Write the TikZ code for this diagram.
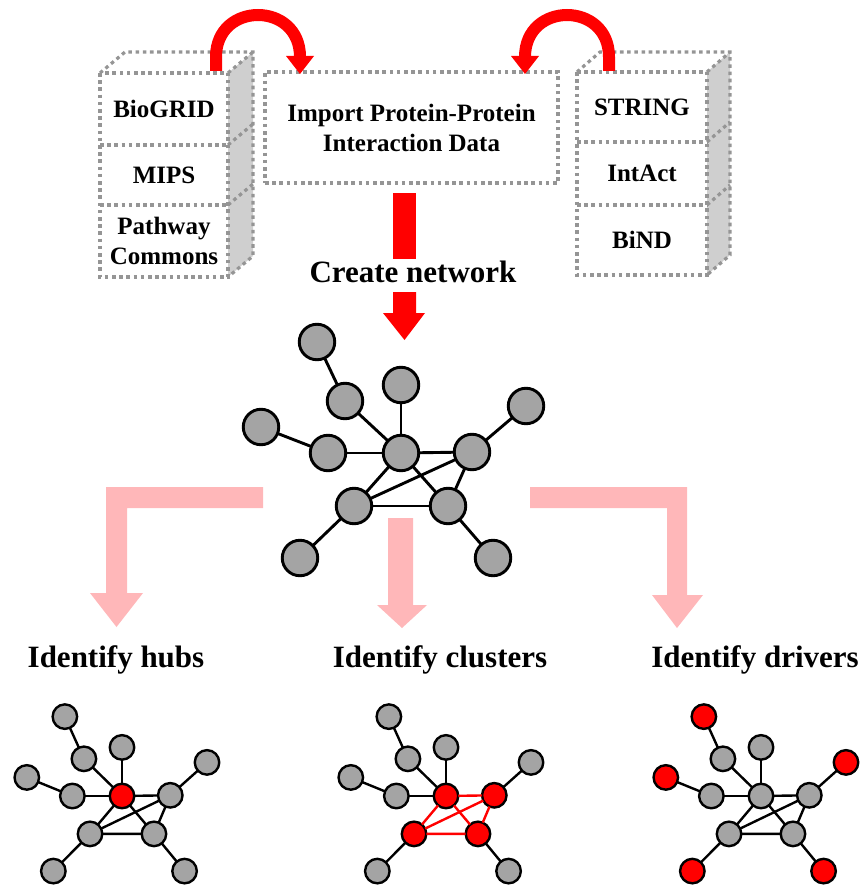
\documentclass[tikz,border=0pt]{standalone}
\usepackage{fontspec}
\setmainfont{Liberation Serif}
\definecolor{nodegray}{HTML}{A4A4A4}
\definecolor{hired}{HTML}{FF0000}
\definecolor{pinkarrow}{HTML}{FFB7B9}
\definecolor{dotgray}{HTML}{959595}
\definecolor{sidegray}{HTML}{CFCFCF}

% one protein node and one interaction edge of a network with prefix #1
\newcommand\pnd[4]{\node[pnode, #1#2/.try] (#1#2) at (#3,#4) {};}
\newcommand\ped[3]{\draw[netedge, #1#2#3/.try] (#1#2) -- (#1#3);}

% the whole network: #1 prefix, #2 centre, #3 x scale, #4 y scale,
% #5 node diameter, #6 line width
\newcommand\protnet[6]{%
  \begin{scope}[shift={#2}, xscale=#3, yscale=#4,
      pnode/.style={circle, draw=black, fill=nodegray, inner sep=0pt,
        outer sep=0pt, minimum size=#5, line width=#6},
      netedge/.style={draw=black, line width=#6}]
    \pnd{#1}{A}{-84}{-111}
    \pnd{#1}{B}{-56}{-52}
    \pnd{#1}{C}{0}{-68}
    \pnd{#1}{D}{125}{-47}
    \pnd{#1}{E}{-140}{-26}
    \pnd{#1}{F}{-73}{0}
    \pnd{#1}{G}{0}{0}
    \pnd{#1}{H}{71}{-1}
    \pnd{#1}{I}{-47}{53}
    \pnd{#1}{J}{47}{53}
    \pnd{#1}{K}{-101}{105}
    \pnd{#1}{L}{92}{105}
    \ped{#1}{A}{B}
    \ped{#1}{B}{G}
    \ped{#1}{C}{G}
    \ped{#1}{D}{H}
    \ped{#1}{E}{F}
    \ped{#1}{F}{G}
    \ped{#1}{G}{H}
    \ped{#1}{G}{I}
    \ped{#1}{G}{J}
    \ped{#1}{H}{I}
    \ped{#1}{H}{J}
    \ped{#1}{I}{J}
    \ped{#1}{I}{K}
    \ped{#1}{J}{L}
  \end{scope}}

\tikzset{
  dotline/.style={draw=dotgray, line width=3.2pt, dash pattern=on 3.6pt off 3.6pt},
  cell/.style={inner sep=0pt, outer sep=0pt, align=center,
    font=\fontsize{25}{30}\selectfont\bfseries},
  biglabel/.style={inner sep=0pt, font=\fontsize{31}{37}\selectfont\bfseries},
  redbend/.style={draw=hired, line width=12pt},
  pinkshape/.style={fill=pinkarrow},
  % highlighted proteins and interactions
  hG/.style={fill=hired},
  cG/.style={fill=hired}, cH/.style={fill=hired},
  cI/.style={fill=hired}, cJ/.style={fill=hired},
  cGH/.style={draw=hired}, cGI/.style={draw=hired}, cGJ/.style={draw=hired},
  cHI/.style={draw=hired}, cHJ/.style={draw=hired}, cIJ/.style={draw=hired},
  dA/.style={fill=hired}, dD/.style={fill=hired}, dE/.style={fill=hired},
  dK/.style={fill=hired}, dL/.style={fill=hired},
}

\begin{document}
\begin{tikzpicture}[x=1pt, y=-1pt]
\useasboundingbox (0,0) rectangle (864,888);

% ---------- left database stack ----------
\node[cell, minimum width=128pt, minimum height=72pt] (bio) at (164,109) {BioGRID};
\node[cell, minimum width=128pt, minimum height=60pt] (mips) at (164,175) {MIPS};
\node[cell, minimum width=128pt, minimum height=72pt] (pwc) at (164,241) {Pathway\\Commons};
\fill[sidegray] (bio.north east) -- ++(25,-21) -- ++(0,204) -- (pwc.south east) -- cycle;
\draw[dotline] (bio.north west) rectangle (pwc.south east);
\draw[dotline] (bio.south west) -- (bio.south east);
\draw[dotline] (mips.south west) -- (mips.south east);
\draw[dotline] (bio.north west) -- ++(25,-21) -- ++(128,0) -- ++(0,204) -- (pwc.south east);
\draw[dotline] (bio.north east) -- ++(25,-21);
\draw[dotline] (bio.south east) -- ++(25,-21);
\draw[dotline] (mips.south east) -- ++(25,-21);

% ---------- right database stack ----------
\node[cell, minimum width=130pt, minimum height=70pt] (str) at (642,107) {STRING};
\node[cell, minimum width=130pt, minimum height=63pt] (int) at (642,173.5) {IntAct};
\node[cell, minimum width=130pt, minimum height=70pt] (bind) at (642,240) {BiND};
\fill[sidegray] (str.north east) -- ++(23,-20) -- ++(0,203) -- (bind.south east) -- cycle;
\draw[dotline] (str.north west) rectangle (bind.south east);
\draw[dotline] (str.south west) -- (str.south east);
\draw[dotline] (int.south west) -- (int.south east);
\draw[dotline] (str.north west) -- ++(23,-20) -- ++(130,0) -- ++(0,203) -- (bind.south east);
\draw[dotline] (str.north east) -- ++(23,-20);
\draw[dotline] (str.south east) -- ++(23,-20);
\draw[dotline] (int.south east) -- ++(23,-20);

% ---------- import box ----------
\node[cell, dotline, minimum width=293pt, minimum height=111pt] (imp) at (411.5,127.5)
  {Import Protein-Protein\\Interaction Data};

% ---------- red arrows into the import box ----------
\draw[redbend] (216,71) -- (216,57) .. controls (216,1) and (300,1) .. (300,57);
\fill[hired] (286,56) -- (314,56) -- (300,74) -- cycle;
\draw[redbend] (609,71) -- (609,57) .. controls (609,1) and (525,1) .. (525,57);
\fill[hired] (511,56) -- (539,56) -- (525,74) -- cycle;

% ---------- create network ----------
\fill[hired] (393,193) rectangle (416,259);
\node[biglabel, anchor=base] (create) at (413,282) {Create network};
\fill[hired] (393,292) -- (416,292) -- (416,313) -- (425,313) -- (404.5,340)
  -- (383,313) -- (393,313) -- cycle;

% ---------- pink arrows to the three analyses ----------
\fill[pinkshape] (263,487) -- (106,487) -- (106,593) -- (90,593) -- (116.5,627)
  -- (143,593) -- (127,593) -- (127,508) -- (263,508) -- cycle;
\fill[pinkshape] (388,518) -- (413,518) -- (413,605) -- (427,605) -- (402,628)
  -- (377,605) -- (388,605) -- cycle;
\fill[pinkshape] (530,487) -- (687,487) -- (687,595) -- (703,595) -- (677,628)
  -- (652,595) -- (667,595) -- (667,508) -- (530,508) -- cycle;

% ---------- networks ----------
\protnet{m}{(401,453)}{1}{1}{35.5pt}{2.9pt}
\protnet{h}{(122,796)}{0.68}{0.715}{24.5pt}{2.4pt}
\protnet{c}{(446,796)}{0.68}{0.715}{24.5pt}{2.4pt}
\protnet{d}{(761,796)}{0.68}{0.715}{24.5pt}{2.4pt}

% ---------- analysis labels ----------
\node[biglabel, anchor=base] (lhubs) at (116,667) {Identify hubs};
\node[biglabel, anchor=base] (lclus) at (440,667) {Identify clusters};
\node[biglabel, anchor=base] (ldriv) at (755,667) {Identify drivers};
\end{tikzpicture}
\end{document}
